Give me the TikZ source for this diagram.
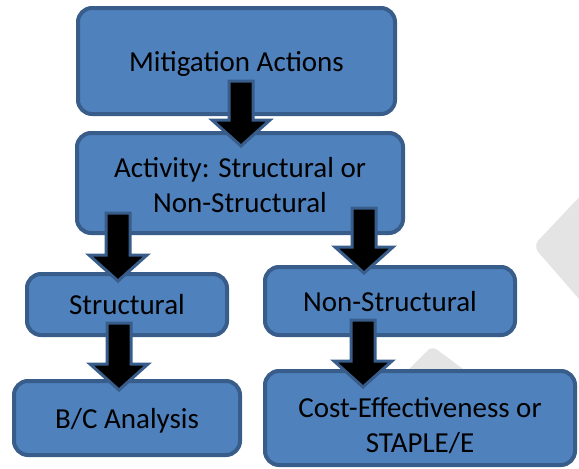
\documentclass[tikz,border=0pt]{standalone}
\usepackage{fontspec}
\setmainfont{Carlito}
\usetikzlibrary{calc}
\definecolor{boxblue}{HTML}{4F81BD}
\definecolor{boxedge}{HTML}{385D8A}
\definecolor{markgray}{HTML}{E4E4E4}
\tikzset{
  stepbox/.style={draw=boxedge, fill=boxblue, line width=4pt, rounded corners=14pt,
    align=center, inner sep=0pt, font=\fontsize{29}{35}\selectfont,
    text height=26pt, text depth=6pt},
  bigarrow/.style={draw=boxedge, fill=black, line width=3pt, line join=miter},
}
% block arrow from #1 (shaft top) to #2 (tip)
\newcommand\blockarrow[2]{%
  \path[bigarrow] let \p1=(#1), \p2=(#2) in
    (\x1-12pt,\y1) -- (\x1+12pt,\y1) -- (\x1+12pt,\y2+26pt) -- (\x1+29pt,\y2+26pt)
    -- (\x2,\y2) -- (\x1-29pt,\y2+26pt) -- (\x1-12pt,\y2+26pt) -- cycle;}
\begin{document}
\begin{tikzpicture}[x=1pt, y=-1pt]
  \useasboundingbox (0,0) rectangle (579,469);
  % faint watermark pieces
  \fill[markgray, rounded corners=8pt] (585,191) -- (533,246) -- (585,306) -- cycle;
  \fill[markgray, rounded corners=6pt] (398,380) -- (432,346) -- (478,380) -- cycle;
  % boxes
  \node[stepbox, minimum width=317pt, minimum height=106pt] (mit) at (236.5,61) {Mitigation Actions};
  \node[stepbox, minimum width=326pt, minimum height=100pt, text height=64pt] (act) at (240,183) {Activity: Structural or\\Non-Structural};
  \node[stepbox, minimum width=200pt, minimum height=61pt] (str) at (127,304.5) {Structural};
  \node[stepbox, minimum width=250pt, minimum height=68pt] (non) at (390,301) {Non-Structural};
  \node[stepbox, minimum width=226pt, minimum height=74pt] (bc) at (127,418) {B/C Analysis};
  \node[stepbox, minimum width=310pt, minimum height=94pt, text height=74pt] (cost) at (420,418) {Cost-Effectiveness or\\STAPLE/E};
  % arrow ends
  \coordinate (mitout) at (241,81);   \coordinate (actin) at (241,146);
  \coordinate (actl) at (118,213);    \coordinate (strin) at (118,281);
  \coordinate (actr) at (364,208);    \coordinate (nonin) at (364,273);
  \coordinate (strout) at (119,323);  \coordinate (bcin) at (119,390);
  \coordinate (nonout) at (363,320);  \coordinate (costin) at (363,387);
  \blockarrow{mitout}{actin}
  \blockarrow{actl}{strin}
  \blockarrow{actr}{nonin}
  \blockarrow{strout}{bcin}
  \blockarrow{nonout}{costin}
\end{tikzpicture}
\end{document}
